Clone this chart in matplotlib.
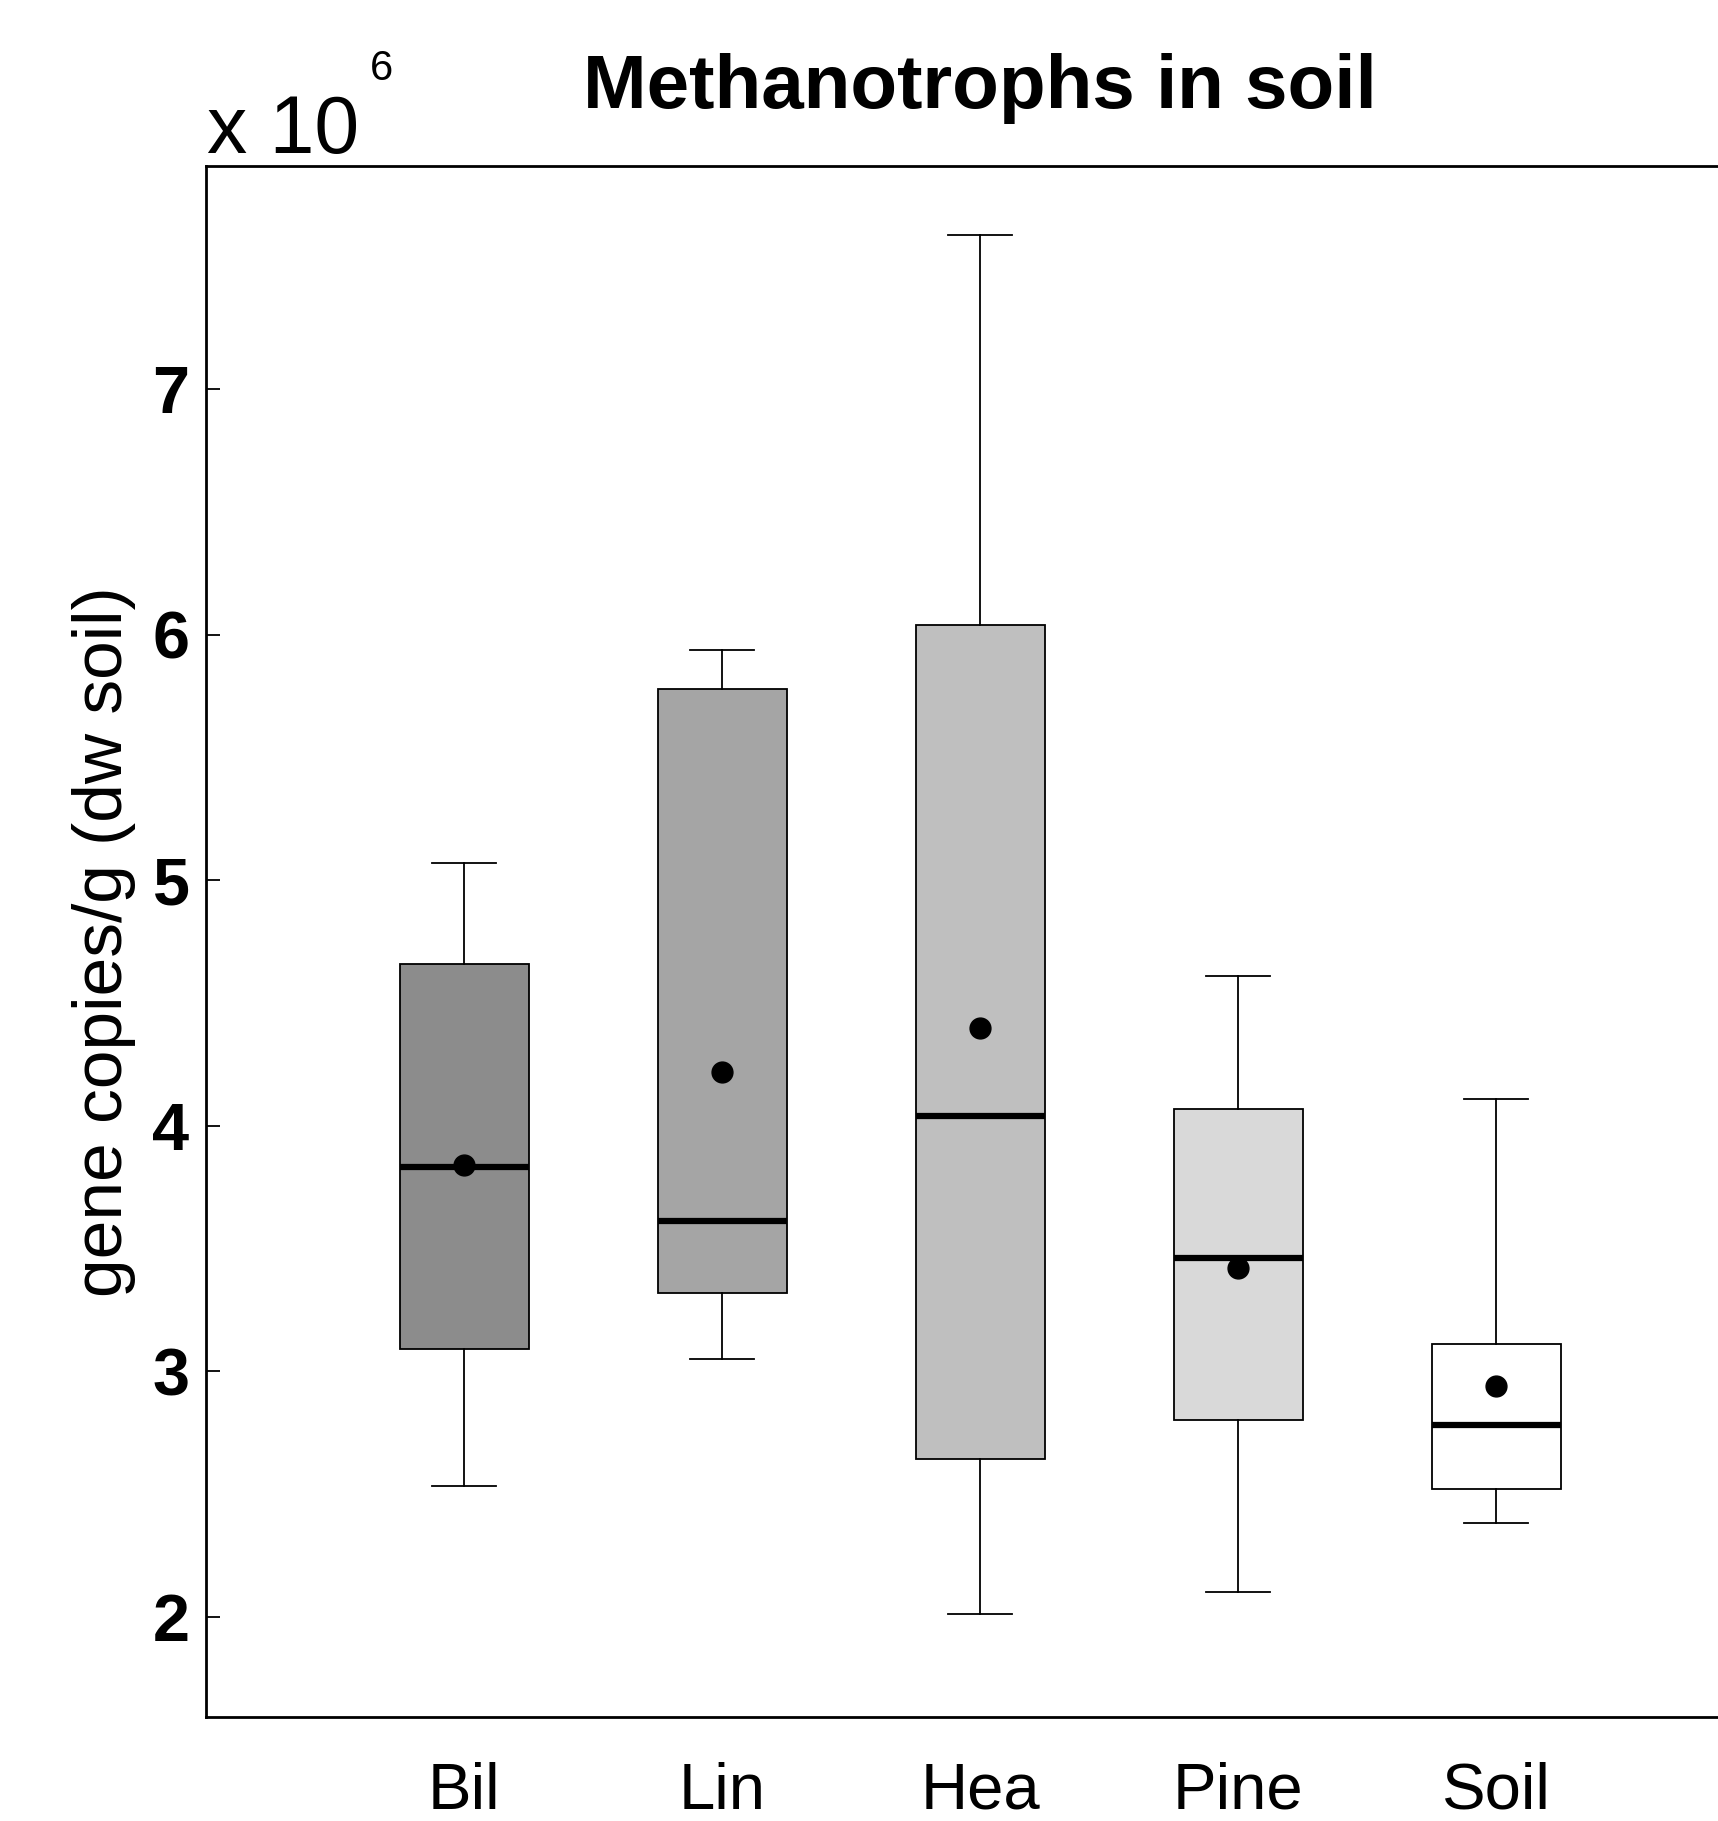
import numpy as np
import matplotlib.pyplot as plt

plt.rcParams['font.family'] = ['Liberation Sans', 'DejaVu Sans']

# values in units of 10^6 gene copies/g
sites = ['Bil', 'Lin', 'Hea', 'Pine', 'Soil']
whislo = [2.53, 3.05, 2.01, 2.10, 2.38]
q1 = [3.09, 3.32, 2.64, 2.80, 2.52]
med = [3.83, 3.61, 4.04, 3.46, 2.78]
q3 = [4.66, 5.78, 6.04, 4.07, 3.11]
whishi = [5.07, 5.94, 7.63, 4.61, 4.11]
means = [3.84, 4.22, 4.40, 3.42, 2.94]
colors = ['#8c8c8c', '#a5a5a5', '#bfbfbf', '#d9d9d9', '#ffffff']

stats = []
for i in range(len(sites)):
    stats.append(dict(label=sites[i], whislo=whislo[i], q1=q1[i], med=med[i],
                      q3=q3[i], whishi=whishi[i], mean=means[i], fliers=[]))

fig = plt.figure(figsize=(17.18, 18.21), dpi=100)
ax = fig.add_axes([0.1200, 0.0570, 0.9010, 0.8518])

pos = np.arange(1, len(sites) + 1)
bp = ax.bxp(stats, positions=pos, widths=0.5, patch_artist=True, showmeans=True,
            showfliers=False,
            boxprops=dict(edgecolor='black', linewidth=1.3),
            medianprops=dict(color='black', linewidth=4.5),
            whiskerprops=dict(color='black', linewidth=1.3, linestyle='-'),
            capprops=dict(color='black', linewidth=1.3),
            meanprops=dict(marker='o', markerfacecolor='black', markeredgecolor='black',
                           markersize=15),
            capwidths=0.25)
for patch, c in zip(bp['boxes'], colors):
    patch.set_facecolor(c)

ax.set_xlim(0, 6)
ax.set_ylim(1.59, 7.91)
ax.set_yticks([2, 3, 4, 5, 6, 7])
ax.set_yticklabels(['2', '3', '4', '5', '6', '7'], fontsize=48, fontweight='bold')
ax.set_xticks(pos)
ax.set_xticklabels(sites, fontsize=47)
ax.tick_params(axis='y', direction='in', length=10, width=1.3, pad=12)
ax.tick_params(axis='x', length=0, pad=32)
for s in ['left', 'top', 'bottom']:
    ax.spines[s].set_linewidth(2)
ax.spines['right'].set_visible(False)

ax.set_ylabel('gene copies/g (dw soil)', fontsize=50, labelpad=12)
ax.set_title('Methanotrophs in soil', fontsize=55, fontweight='bold', pad=42)

fig.text(207 / 1718, 1 - 153 / 1821, 'x 10', fontsize=58, ha='left', va='baseline')
fig.text(370 / 1718, 1 - 80 / 1821, '6', fontsize=30, ha='left', va='baseline')

fig.savefig('out.png', dpi=100)
